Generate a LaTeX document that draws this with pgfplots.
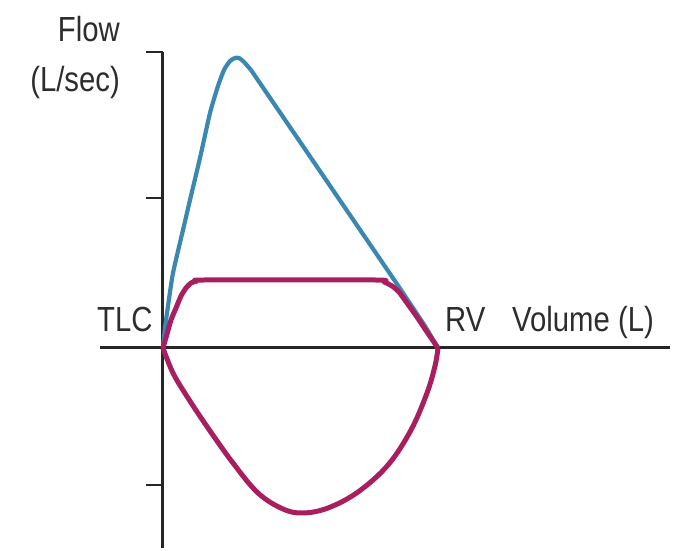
\documentclass[border=0pt]{standalone}
\usepackage{pgfplots}
\pgfplotsset{compat=1.18}
\usepackage{fontspec}
\setmainfont{Liberation Sans}
\definecolor{flowblue}{RGB}{58,136,178}
\definecolor{loopmag}{RGB}{168,30,94}
\definecolor{txt}{RGB}{45,45,45}
\newcommand{\lab}[1]{\fontsize{35}{40}\selectfont\scalebox{0.84}[1]{#1}}
\begin{document}
\begin{tikzpicture}
\begin{axis}[
  x=1bp, y=1bp,
  xmin=0, xmax=507, ymin=-200, ymax=296,
  axis y line=left, axis x line=middle,
  axis line style={-, line width=3bp, black!85},
  x axis line style={shorten <=-63bp},
  xtick=\empty,
  ytick={-137,150,296}, yticklabels={},
  tick align=outside, major tick length=17bp,
  every tick/.style={line width=2.8bp, black!85},
  clip=false,
]
\path (axis cs:-163,-203) rectangle (axis cs:514,348);
% normal expiratory curve
\addplot[flowblue, line width=4.2bp, line join=round, smooth, tension=0.35] coordinates {
(0,0) (2,20) (5,42) (10,75) (20,118) (27,148) (37,190) (47,235) (55,262) (61,278) (67,287) (72,290) (76,290) (81,286) (88,278)};
\addplot[flowblue, line width=4.2bp, line join=round] coordinates {
(88,278) (234,64) (262,22) (275,0)};
% fixed obstruction loop, expiratory limb
\addplot[loopmag, line width=5bp, line join=round, smooth, tension=0.4] coordinates {
(0,0) (4,14) (8,28) (13,40) (18,52) (23,60) (28,65) (34,67) (42,68) (212,68) (221,66) (229,62) (236,56) (244,45) (254,31) (264,16) (275,0)};
% inspiratory limb
\addplot[loopmag, line width=5bp, line join=round, smooth, tension=0.6] coordinates {
(0,0) (10,-25) (25,-50) (45,-80) (70,-115) (95,-145) (120,-161) (140,-165) (165,-160) (195,-144) (225,-117) (248,-82) (264,-45) (272,-18) (275,0)};
\node[anchor=base east, text=txt, inner sep=0pt] at (axis cs:-43,306) {\lab{Flow}};
\node[anchor=base east, text=txt, inner sep=0pt] at (axis cs:-43,256) {\lab{(L/sec)}};
\node[anchor=base west, text=txt, inner sep=0pt] at (axis cs:-66,16) {\lab{TLC}};
\node[anchor=base west, text=txt, inner sep=0pt] at (axis cs:282,16) {\lab{RV}};
\node[anchor=base west, text=txt, inner sep=0pt] at (axis cs:349,16) {\lab{Volume (L)}};
\end{axis}
\end{tikzpicture}
\end{document}
